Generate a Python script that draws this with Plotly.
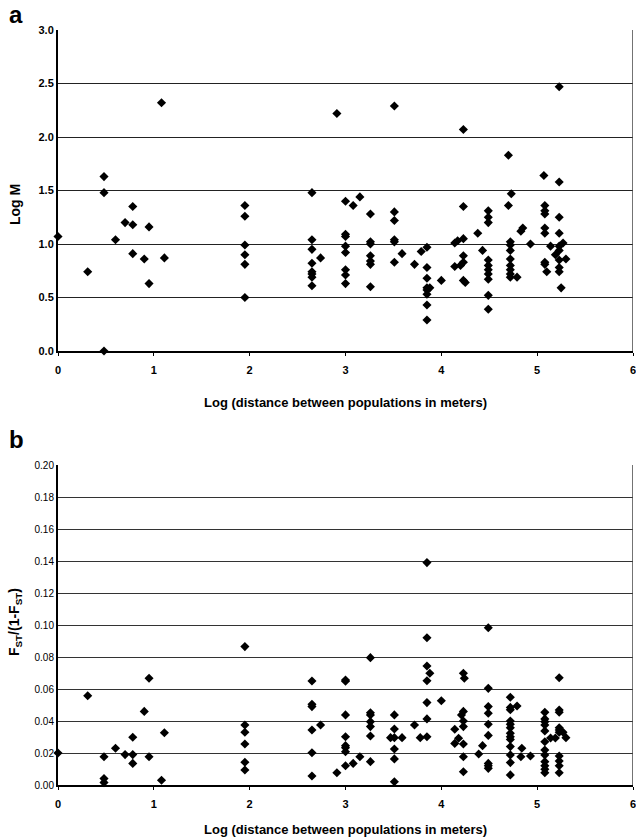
import plotly.graph_objects as go

# Panel a: Log M vs log distance
a_x = [0.00, 0.31, 0.48, 0.48, 0.48, 0.60, 0.70, 0.78, 0.78, 0.78, 0.90, 0.95, 0.95, 1.08, 1.11,
       1.95, 1.95, 1.95, 1.95, 1.95, 1.95,
       2.65, 2.65, 2.65, 2.65, 2.65, 2.65, 2.65, 2.65, 2.74, 2.91,
       3.00, 3.00, 3.00, 3.00, 3.00, 3.00, 3.00, 3.00, 3.08, 3.15,
       3.26, 3.26, 3.26, 3.26, 3.26, 3.26, 3.26,
       3.51, 3.51, 3.51, 3.51, 3.51, 3.51, 3.59, 3.72, 3.79,
       3.85, 3.85, 3.85, 3.85, 3.85, 3.85, 3.85, 3.85, 3.88, 4.00,
       4.14, 4.17, 4.23, 4.23, 4.23, 4.23, 4.23, 4.20, 4.14, 4.23, 4.25,
       4.38, 4.43,
       4.49, 4.49, 4.49, 4.49, 4.49, 4.49, 4.49, 4.49, 4.49, 4.49,
       4.70, 4.70, 4.73,
       4.72, 4.72, 4.72, 4.72, 4.72, 4.72, 4.72, 4.72, 4.79, 4.83, 4.85, 4.93,
       5.07, 5.08, 5.08, 5.08, 5.08, 5.08, 5.08, 5.08, 5.10, 5.14, 5.19,
       5.23, 5.23, 5.23, 5.23, 5.23, 5.23, 5.23, 5.23, 5.23, 5.25, 5.27, 5.30]
a_y = [1.07, 0.74, 1.63, 1.48, 0.00, 1.04, 1.20, 1.35, 1.18, 0.91, 0.86, 1.16, 0.63, 2.32, 0.87,
       1.36, 1.26, 0.99, 0.90, 0.81, 0.50,
       1.48, 1.04, 0.95, 0.82, 0.74, 0.72, 0.69, 0.61, 0.87, 2.22,
       1.40, 1.09, 1.07, 0.98, 0.92, 0.76, 0.71, 0.63, 1.36, 1.44,
       1.28, 1.02, 1.00, 0.89, 0.84, 0.81, 0.60,
       2.29, 1.30, 1.22, 1.04, 1.02, 0.83, 0.91, 0.81, 0.93,
       0.97, 0.78, 0.68, 0.59, 0.57, 0.53, 0.43, 0.29, 0.59, 0.66,
       1.01, 1.03, 1.05, 1.35, 2.07, 0.89, 0.83, 0.80, 0.79, 0.66, 0.64,
       1.10, 0.94,
       1.31, 1.25, 1.20, 0.85, 0.80, 0.76, 0.72, 0.67, 0.52, 0.39,
       1.83, 1.36, 1.47,
       1.02, 0.99, 0.94, 0.86, 0.80, 0.76, 0.72, 0.69, 0.69, 1.12, 1.15, 1.00,
       1.64, 1.36, 1.31, 1.28, 1.15, 1.10, 0.83, 0.81, 0.74, 0.98, 0.90,
       2.47, 1.58, 1.25, 1.10, 0.98, 0.94, 0.85, 0.78, 0.74, 0.59, 1.01, 0.86]

# Panel b: FST/(1-FST) vs log distance
b_x = [0.00, 0.31, 0.48, 0.48, 0.48, 0.60, 0.70, 0.78, 0.78, 0.78, 0.90, 0.95, 0.95, 1.08, 1.11,
       1.95, 1.95, 1.95, 1.95, 1.95, 1.95,
       2.65, 2.65, 2.65, 2.65, 2.65, 2.65, 2.74, 2.91,
       3.00, 3.00, 3.00, 3.00, 3.00, 3.00, 3.00, 3.00, 3.08, 3.15,
       3.26, 3.26, 3.26, 3.26, 3.26, 3.26, 3.26,
       3.51, 3.51, 3.51, 3.51, 3.51, 3.51, 3.47, 3.59, 3.72, 3.78,
       3.85, 3.85, 3.85, 3.85, 3.85, 3.85, 3.85, 3.88, 4.00,
       4.23, 4.24, 4.23, 4.21, 4.23, 4.23, 4.14, 4.18, 4.14, 4.23, 4.23, 4.23,
       4.39, 4.43,
       4.49, 4.49, 4.49, 4.49, 4.49, 4.49, 4.49, 4.49, 4.49,
       4.72, 4.72, 4.72, 4.72, 4.72, 4.72, 4.72, 4.72, 4.72, 4.72, 4.72, 4.72, 4.72,
       4.79, 4.84, 4.83, 4.93,
       5.08, 5.08, 5.08, 5.08, 5.08, 5.08, 5.08, 5.08, 5.08, 5.08, 5.08, 5.08, 5.14, 5.19,
       5.23, 5.23, 5.23, 5.23, 5.23, 5.23, 5.23, 5.23, 5.23, 5.23, 5.27, 5.30]
b_y = [0.0200, 0.0558, 0.0177, 0.0040, 0.0015, 0.0230, 0.0190, 0.0298, 0.0190, 0.0135, 0.0460, 0.0667, 0.0177, 0.0030, 0.0327,
       0.0865, 0.0375, 0.0330, 0.0256, 0.0142, 0.0094,
       0.0650, 0.0504, 0.0490, 0.0344, 0.0202, 0.0056, 0.0375, 0.0077,
       0.0656, 0.0648, 0.0438, 0.0302, 0.0246, 0.0233, 0.0208, 0.0120, 0.0135, 0.0177,
       0.0796, 0.0452, 0.0438, 0.0396, 0.0365, 0.0306, 0.0146,
       0.0438, 0.0350, 0.0296, 0.0225, 0.0163, 0.0020, 0.0296, 0.0296, 0.0375, 0.0296,
       0.1390, 0.0920, 0.0744, 0.0652, 0.0515, 0.0413, 0.0302, 0.0698, 0.0527,
       0.0698, 0.0667, 0.0460, 0.0438, 0.0400, 0.0365, 0.0348, 0.0292, 0.0260, 0.0256, 0.0177, 0.0083,
       0.0194, 0.0246,
       0.0983, 0.0604, 0.0490, 0.0448, 0.0380, 0.0310, 0.0135, 0.0120, 0.0104,
       0.0548, 0.0485, 0.0470, 0.0400, 0.0380, 0.0358, 0.0323, 0.0302, 0.0285, 0.0240, 0.0188, 0.0140, 0.0063,
       0.0494, 0.0230, 0.0177, 0.0181,
       0.0454, 0.0413, 0.0396, 0.0375, 0.0338, 0.0270, 0.0219, 0.0188, 0.0146, 0.0120, 0.0098, 0.0077, 0.0294, 0.0294,
       0.0670, 0.0469, 0.0455, 0.0358, 0.0344, 0.0330, 0.0181, 0.0150, 0.0120, 0.0077, 0.0330, 0.0296]

x_ticks = [0, 1, 2, 3, 4, 5, 6]
a_yticks = [0.0, 0.5, 1.0, 1.5, 2.0, 2.5, 3.0]
b_yticks = [0.00, 0.02, 0.04, 0.06, 0.08, 0.10, 0.12, 0.14, 0.16, 0.18, 0.20]

FONT = "Arial, Liberation Sans, sans-serif"
marker = dict(symbol="diamond", size=7, color="black")

fig = go.Figure()
fig.add_trace(go.Scatter(x=a_x, y=a_y, mode="markers", marker=marker,
                         xaxis="x", yaxis="y", cliponaxis=False, showlegend=False))
fig.add_trace(go.Scatter(x=b_x, y=b_y, mode="markers", marker=marker,
                         xaxis="x2", yaxis="y2", cliponaxis=False, showlegend=False))

# pixel layout: plot area x 58..633; panel a y 30..351, panel b y 465..785
H = 840
top, bot = 30, 55
ph = H - top - bot
def py(p):
    return (H - bot - p) / ph

axis_common = dict(showline=True, linecolor="black", linewidth=2, mirror=False,
                   zeroline=False)
xcommon = dict(range=[0, 6], tickvals=x_ticks, ticks="outside", ticklen=3,
               tickcolor="black", showgrid=False, ticklabeloverflow="allow",
               ticklabelstandoff=5,
               tickfont=dict(family=FONT, size=11, color="black", weight="bold"),
               **axis_common)

fig.update_layout(
    width=636, height=840,
    margin=dict(l=58, r=3, t=top, b=bot, autoexpand=False),
    paper_bgcolor="white", plot_bgcolor="white",
    font=dict(family=FONT, color="black"),
    xaxis=dict(domain=[0, 1], anchor="y", **xcommon),
    yaxis=dict(domain=[py(351), 1.0], anchor="x", range=[0, 3.0], tickvals=a_yticks,
               tickformat=".1f", ticks="", showgrid=True, gridcolor="#222", gridwidth=1.3,
               tickfont=dict(family=FONT, size=11, color="black", weight="bold"),
               **axis_common),
    xaxis2=dict(domain=[0, 1], anchor="y2", **xcommon),
    yaxis2=dict(domain=[0, py(465)], anchor="x2", range=[0, 0.20], tickvals=b_yticks,
                tickformat=".2f", ticks="", showgrid=True, gridcolor="#333", gridwidth=1.2,
                tickfont=dict(family=FONT, size=10, color="black"),
                **axis_common),
)

# right-hand borders
for yr, (y0, y1) in (("y", (0, 3.0)), ("y2", (0, 0.20))):
    fig.add_shape(type="line", xref="x" if yr == "y" else "x2", yref=yr,
                  x0=6, x1=6, y0=y0, y1=y1, line=dict(color="#444", width=1.5))

ann = [
    dict(text="<b>a</b>", x=(16 - 58) / 575, y=py(14), xanchor="center", yanchor="middle",
         font=dict(size=24)),
    dict(text="<b>b</b>", x=(16 - 58) / 575, y=py(439), xanchor="center", yanchor="middle",
         font=dict(size=24)),
    dict(text="<b>Log (distance between populations in meters)</b>", x=0.5, y=py(402),
         xanchor="center", yanchor="middle", font=dict(size=13)),
    dict(text="<b>Log (distance between populations in meters)</b>", x=0.5, y=py(829),
         xanchor="center", yanchor="middle", font=dict(size=13)),
    dict(text="<b>Log M</b>", x=(15 - 58) / 575, y=py(205), textangle=-90,
         xanchor="center", yanchor="middle", font=dict(size=14)),
    dict(text="<b>F<sub>ST</sub>/(1-F<sub>ST</sub>)</b>", x=(15 - 58) / 575, y=py(622),
         textangle=-90, xanchor="center", yanchor="middle", font=dict(size=14)),
]
for a in ann:
    a.update(xref="paper", yref="paper", showarrow=False)
    a["font"] = dict(family=FONT, color="black", **a["font"])
    fig.add_annotation(**a)

fig.write_html("out.html", config={"displayModeBar": False},
               post_script="document.body.style.margin='0';"
                           "document.documentElement.style.margin='0';")
